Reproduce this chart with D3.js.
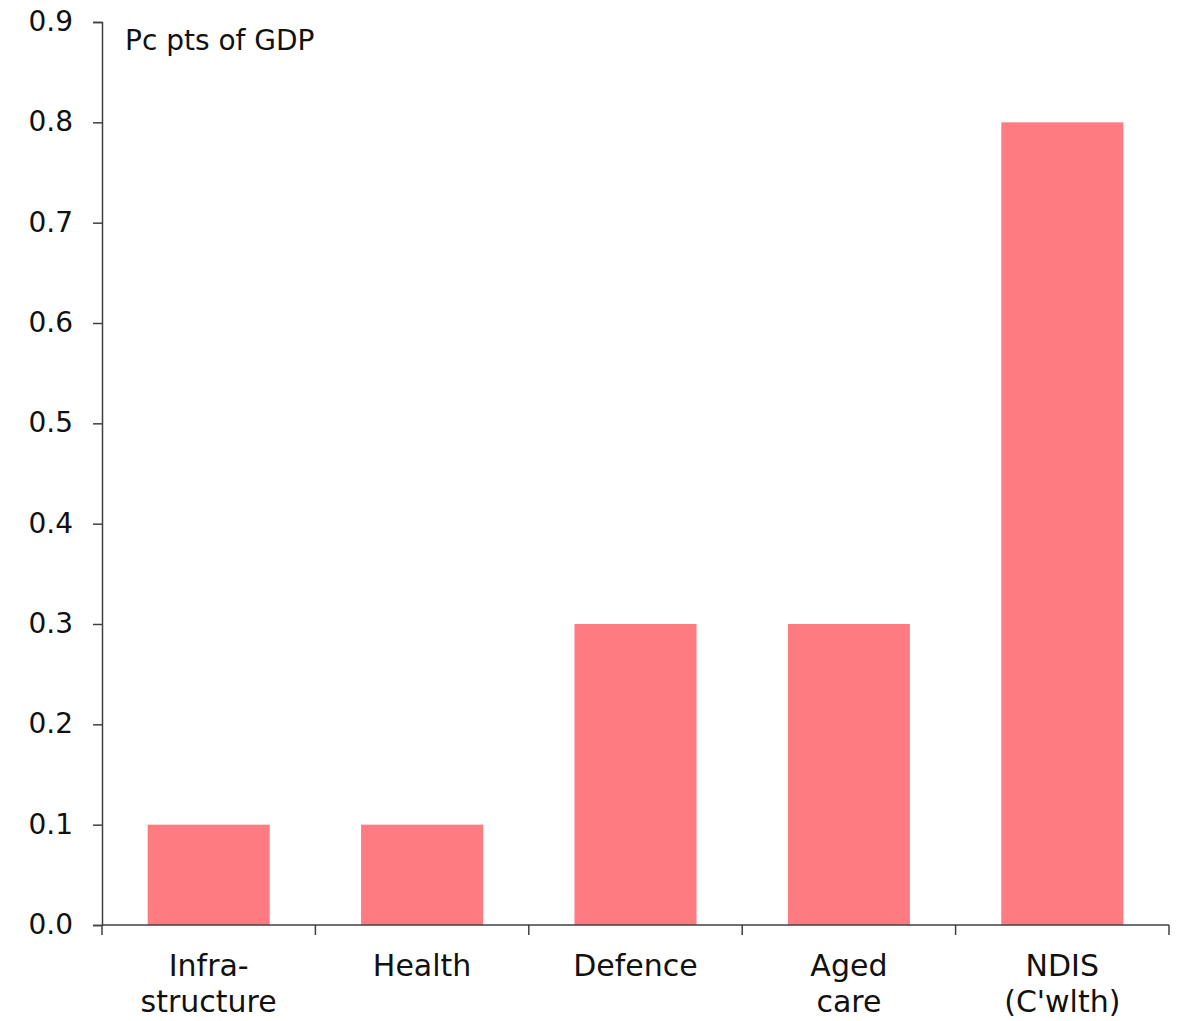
<!DOCTYPE html>
<html><head><meta charset="utf-8">
<script src="https://cdn.jsdelivr.net/npm/d3@7"></script>
<style>body{margin:0;background:#fff}svg{display:block}text{font-family:"DejaVu Sans",sans-serif;fill:#111}</style>
</head><body>
<script>
const categories = [["Infra-","structure"],["Health"],["Defence"],["Aged","care"],["NDIS","(C'wlth)"]];
const values = [0.1, 0.1, 0.3, 0.3, 0.8];
const yTicks = [0,0.1,0.2,0.3,0.4,0.5,0.6,0.7,0.8,0.9];
const yLabel = "Pc pts of GDP";

(function(){
const W = 1185, H = 1021;
const mLeft = 102, mRight = 1169, mTop = 22, mBottom = 925;
const svg = d3.select("body").append("svg").attr("width", W).attr("height", H);

const keys = categories.map((c,i)=>i);
const x = d3.scaleBand().domain(keys).range([mLeft, mRight]).paddingInner(0.428).paddingOuter(0.214);
const xb = d3.scaleBand().domain(keys).range([mLeft, mRight]).padding(0);
const y = d3.scaleLinear().domain([0, 0.9]).range([mBottom, mTop]);

svg.append("g").selectAll("rect").data(values).join("rect")
  .attr("x", (d,i)=>x(i)).attr("width", x.bandwidth())
  .attr("y", d=>y(d)).attr("height", d=>y(0)-y(d))
  .attr("fill", "#FF7B82");

// y axis
const ya = svg.append("g").attr("transform", `translate(${mLeft},0)`)
  .call(d3.axisLeft(y).tickValues(yTicks).tickFormat(d3.format(".1f")).tickSize(9).tickPadding(20));
ya.select(".domain").attr("stroke", "#404040").attr("stroke-width", 1.5);
ya.selectAll(".tick line").attr("stroke", "#404040").attr("stroke-width", 1.5);
ya.selectAll(".tick text").attr("font-size", 28).attr("font-family", "DejaVu Sans").attr("fill", "#111").attr("dy", "0.3em");

// x axis
const xa = svg.append("g").attr("transform", `translate(0,${mBottom})`);
xa.append("line").attr("x1", mLeft).attr("x2", mRight).attr("stroke", "#404040").attr("stroke-width", 1.5);
const bounds = keys.map(k=>xb(k)).concat([mRight]);
xa.selectAll("line.t").data(bounds).join("line").attr("class","t")
  .attr("x1", d=>d).attr("x2", d=>d).attr("y1", 0).attr("y2", 10)
  .attr("stroke", "#404040").attr("stroke-width", 1.5);

const lab = svg.append("g").selectAll("text").data(categories).join("text")
  .attr("x", (d,i)=>x(i)+x.bandwidth()/2).attr("y", 976)
  .attr("text-anchor", "middle").attr("font-size", 30);
lab.selectAll("tspan").data(d=>d).join("tspan")
  .attr("x", function(){return this.parentNode.getAttribute("x");})
  .attr("dy", (d,i)=>i===0?0:36).text(d=>d);

svg.append("text").attr("x", 125).attr("y", 50).attr("font-size", 28).text(yLabel);
})();
</script>
</body></html>
